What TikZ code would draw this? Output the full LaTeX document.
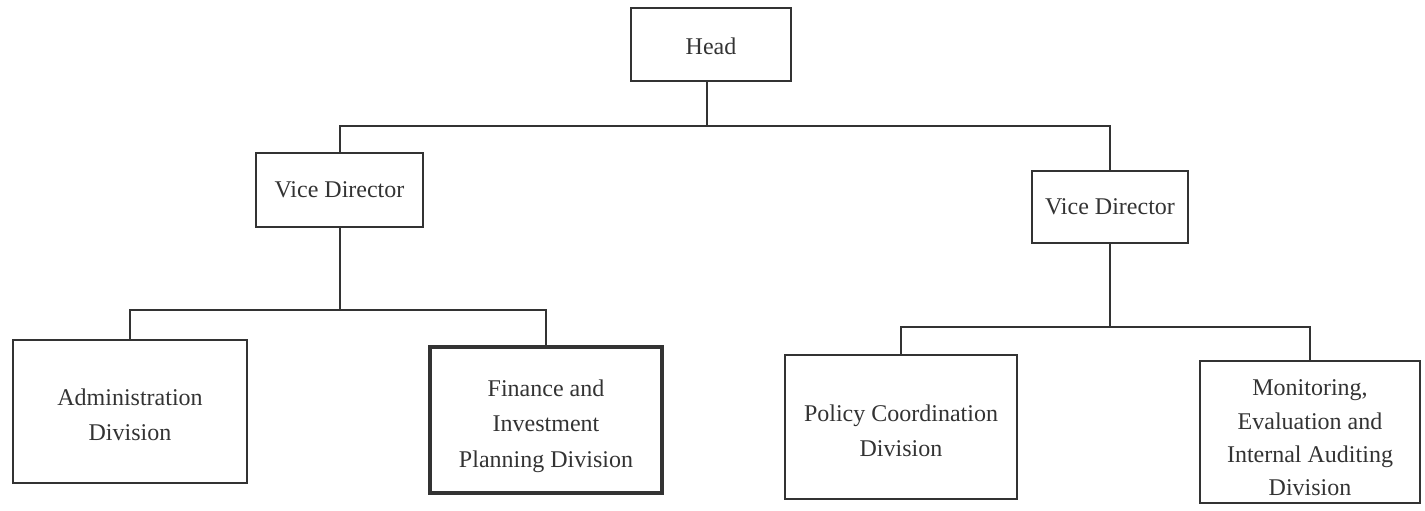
\documentclass[tikz,border=0pt]{standalone}
\usepackage{fontspec}
\setmainfont{Liberation Serif}
\newcommand{\boxtext}[3]{\raisebox{#1}[\height][\depth]{\parbox{#2}{\centering #3}}}
\begin{document}
\begin{tikzpicture}[x=0.5pt,y=-0.5pt,
  orgbox/.style={draw=black!80, line width=1pt, inner sep=0pt, align=center,
    text=black!80, font=\fontsize{12}{17.7}\selectfont},
  heavybox/.style={orgbox, line width=2.3pt},
  link/.style={draw=black!80, line width=1pt}]
\useasboundingbox (0,0) rectangle (1425,510);
\node[orgbox, minimum width=80pt, minimum height=36.5pt] (head) at (711,44.5) {\boxtext{-1pt}{60pt}{Head}};
\node[orgbox, minimum width=83.5pt, minimum height=37pt] (vdl) at (339.5,190) {Vice Director};
\node[orgbox, minimum width=78pt, minimum height=36pt] (vdr) at (1110,207) {Vice Director};
\node[orgbox, minimum width=117pt, minimum height=71.5pt] (adm) at (130,411.5) {\boxtext{-1.5pt}{110pt}{Administration\\Division}};
\node[heavybox, minimum width=116pt, minimum height=73pt] (fin) at (546,420) {\boxtext{-3pt}{110pt}{Finance and\\Investment\\Planning Division}};
\node[orgbox, minimum width=116pt, minimum height=72pt] (pol) at (901,427) {\boxtext{-2pt}{110pt}{Policy Coordination\\Division}};
\node[orgbox, minimum width=110pt, minimum height=71pt, font=\fontsize{12}{16.7}\selectfont] (mon) at (1310,432) {\boxtext{-3pt}{108pt}{Monitoring,\\Evaluation and\\Internal Auditing\\Division}};
\coordinate (j1) at (707,126);
\coordinate (j2) at (339.5,310);
\coordinate (j3) at (1110,327);
\draw[link] (head.south -| j1) -- (j1);
\draw[link] (vdl.north) |- (j1) -| (vdr.north);
\draw[link] (vdl.south) -- (j2);
\draw[link] (adm.north) |- (j2) -| (fin.north);
\draw[link] (vdr.south) -- (j3);
\draw[link] (pol.north) |- (j3) -| (mon.north);
\end{tikzpicture}
\end{document}
